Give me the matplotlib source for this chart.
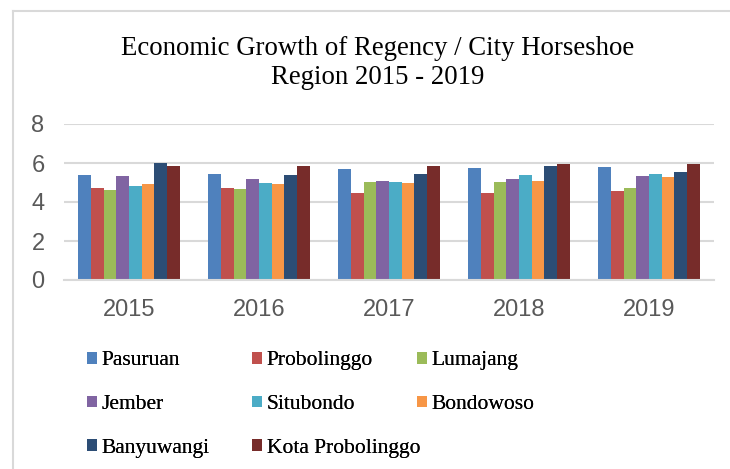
import numpy as np
import matplotlib
matplotlib.use("Agg")
import matplotlib.pyplot as plt
from matplotlib.lines import Line2D

years = ["2015", "2016", "2017", "2018", "2019"]
regions = ["Pasuruan", "Probolinggo", "Lumajang", "Jember", "Situbondo",
           "Bondowoso", "Banyuwangi", "Kota Probolinggo"]
colours = ["#4f81bd", "#c0504d", "#9bbb59", "#8064a2", "#4bacc6",
           "#f79646", "#2c4d75", "#772c2a"]

# growth (%) per region, one value per year
pasuruan = [5.36, 5.44, 5.69, 5.76, 5.79]
probolinggo = [4.73, 4.73, 4.46, 4.46, 4.54]
lumajang = [4.61, 4.68, 5.03, 5.01, 4.73]
jember = [5.33, 5.19, 5.08, 5.19, 5.31]
situbondo = [4.84, 4.97, 5.03, 5.40, 5.44]
bondowoso = [4.94, 4.94, 4.99, 5.08, 5.26]
banyuwangi = [6.00, 5.36, 5.44, 5.83, 5.54]
kota_probolinggo = [5.83, 5.86, 5.86, 5.93, 5.93]
series = [pasuruan, probolinggo, lumajang, jember, situbondo,
          bondowoso, banyuwangi, kota_probolinggo]

W, H = 730, 469
fig = plt.figure(figsize=(W / 100, H / 100), dpi=100)
ax = fig.add_axes([64 / W, 1 - 280 / H, (714 - 64) / W, (280 - 124) / H])

x = np.arange(len(years))
bw = 0.098
bars = []
for i, (vals, c) in enumerate(zip(series, colours)):
    b = ax.bar(x + (i - 3.5) * bw, vals, bw, color=c, label=regions[i], zorder=3)
    bars.append(b)

ax.set_xlim(-0.5, len(years) - 0.5)
ax.set_ylim(0, 8)
ax.set_yticks(range(0, 9, 2))
ax.set_xticks(x)
ax.set_xticklabels(years)
ax.grid(axis="y", color="#d9d9d9", linewidth=1.5, zorder=0)
for s in ["top", "right", "left"]:
    ax.spines[s].set_visible(False)
ax.spines["bottom"].set_color("#d9d9d9")
ax.spines["bottom"].set_linewidth(1.5)
ax.spines["bottom"].set_zorder(4)
ax.tick_params(length=0, labelsize=17, labelcolor="#595959")
ax.tick_params(axis="y", pad=14)
ax.tick_params(axis="x", pad=14)
for t in ax.get_xticklabels() + ax.get_yticklabels():
    t.set_family("Liberation Sans")

fig.text(378 / W, 1 - 63 / H, "Economic Growth of Regency / City Horseshoe\nRegion 2015 - 2019",
         ha="center", va="center", family="Liberation Serif", fontsize=19.3,
         linespacing=1.22)

# chart frame (left and top edges visible)
fig.add_artist(Line2D([13 / W, 13 / W], [0, 1 - 11 / H], color="#d9d9d9", lw=1.5))
fig.add_artist(Line2D([13 / W, 1], [1 - 11 / H, 1 - 11 / H], color="#d9d9d9", lw=1.5))

# legend: three fixed-width columns, filled row by row
col_x = [68, 233, 398]
for col in range(3):
    idx = list(range(col, len(regions), 3))
    leg = fig.legend([bars[i] for i in idx], [regions[i] for i in idx],
                     loc="upper left", bbox_to_anchor=(col_x[col] / W, 1 - 332 / H),
                     frameon=False, prop={"family": "Liberation Serif", "size": 15.5},
                     handlelength=0.47, handleheight=0.47, handletextpad=0.2,
                     labelspacing=1.15)
    fig.add_artist(leg)

fig.savefig("out.png", dpi=100)
